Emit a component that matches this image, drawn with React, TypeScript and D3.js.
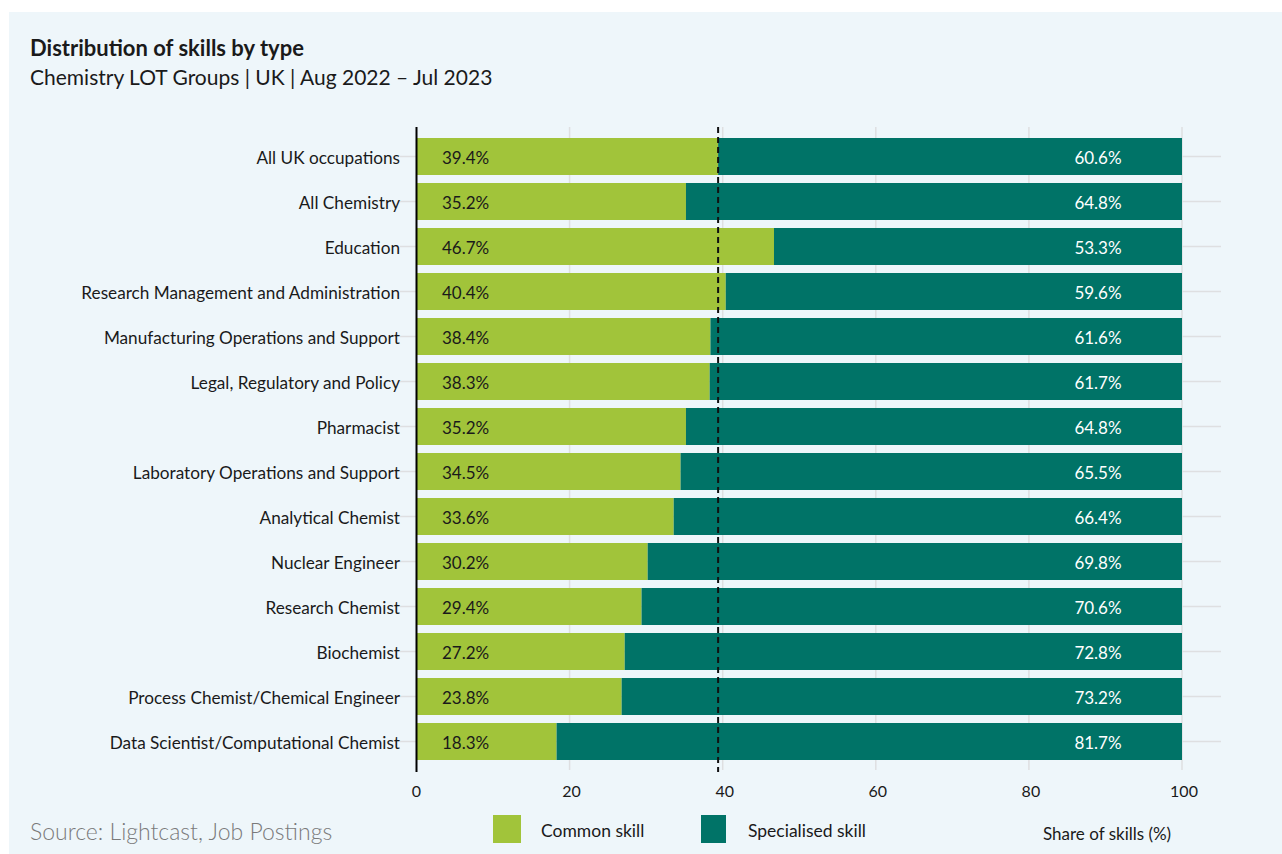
import React from "react";
import * as d3 from "d3";

const categories = [
  "All UK occupations",
  "All Chemistry",
  "Education",
  "Research Management and Administration",
  "Manufacturing Operations and Support",
  "Legal, Regulatory and Policy",
  "Pharmacist",
  "Laboratory Operations and Support",
  "Analytical Chemist",
  "Nuclear Engineer",
  "Research Chemist",
  "Biochemist",
  "Process Chemist/Chemical Engineer",
  "Data Scientist/Computational Chemist",
];
const commonShare = [39.4, 35.2, 46.7, 40.4, 38.4, 38.3, 35.2, 34.5, 33.6, 30.2, 29.4, 27.2, 23.8, 18.3];
const specialisedShare = [60.6, 64.8, 53.3, 59.6, 61.6, 61.7, 64.8, 65.5, 66.4, 69.8, 70.6, 72.8, 73.2, 81.7];
const xTicks = [0, 20, 40, 60, 80, 100];
const referenceValue = commonShare[0];

const GREEN = "#A1C43A";
const TEAL = "#007367";
const FONT = "Lato, 'Noto Sans', sans-serif";

export default function App() {
  const W = 1282, H = 854;
  const x = d3.scaleLinear().domain([0, 100]).range([416.5, 1182]);
  const y = d3.scaleBand<string>().domain(categories).range([134, 764]).paddingInner(8 / 45).paddingOuter(4 / 45);
  const bw = y.bandwidth();
  const gridTop = 127, gridBottom = 770;

  return (
    <svg width={W} height={H} style={{ position: "absolute", left: 0, top: 0, fontFamily: FONT }}>
      <rect x={9} y={12} width={W - 9} height={H - 12} fill="#EEF6FA" />
      <text x={30} y={56} fontSize={22} fontWeight={700} fill="#1a1a1a">Distribution of skills by type</text>
      <text x={30} y={85} fontSize={21} fill="#1a1a1a">Chemistry LOT Groups | UK | Aug 2022 – Jul 2023</text>

      {/* gridlines */}
      {xTicks.slice(1).map((t) => (
        <line key={"g" + t} x1={x(t)} x2={x(t)} y1={gridTop} y2={gridBottom} stroke="#DEDFE1" strokeWidth={1.5} />
      ))}
      {categories.map((c) => (
        <line key={"h" + c} x1={400} x2={1221} y1={(y(c) as number) + bw / 2} y2={(y(c) as number) + bw / 2} stroke="#DEDFE1" strokeWidth={1.5} />
      ))}

      {/* bars */}
      {categories.map((c, i) => {
        const y0 = y(c) as number;
        const split = 100 - specialisedShare[i];
        return (
          <g key={c}>
            <rect x={x(0)} y={y0} width={x(split) - x(0)} height={bw} fill={GREEN} />
            <rect x={x(split)} y={y0} width={x(100) - x(split)} height={bw} fill={TEAL} />
            <text x={x(0) + 25.5} y={y0 + bw / 2} dy="0.45em" fontSize={17} fill="#1a1a1a">{commonShare[i].toFixed(1)}%</text>
            <text x={x(100) - 84} y={y0 + bw / 2} dy="0.45em" fontSize={17} fill="#ffffff" textAnchor="middle">{specialisedShare[i].toFixed(1)}%</text>
            <text x={400} y={y0 + bw / 2} dy="0.45em" fontSize={17.2} fill="#1a1a1a" textAnchor="end">{c}</text>
          </g>
        );
      })}

      {/* y axis line */}
      <line x1={x(0)} x2={x(0)} y1={gridTop} y2={772} stroke="#000" strokeWidth={2} />
      {/* reference dashed line */}
      <line x1={x(referenceValue)} x2={x(referenceValue)} y1={gridTop} y2={772} stroke="#111" strokeWidth={2} strokeDasharray="6,4" />

      {/* x tick labels */}
      {xTicks.map((t) => (
        <text key={"t" + t} x={x(t) + (t === 0 ? 0 : 2)} y={797} fontSize={16} fill="#1a1a1a" textAnchor="middle">{t}</text>
      ))}

      {/* footer */}
      <text x={30} y={840} fontSize={23} fontWeight={300} fill="#7a7a7a">Source: Lightcast, Job Postings</text>
      <rect x={493} y={815} width={28} height={28} fill={GREEN} />
      <text x={541} y={837} fontSize={17.5} fill="#1a1a1a">Common skill</text>
      <rect x={701} y={815} width={25} height={28} fill={TEAL} />
      <text x={748} y={837} fontSize={17.5} fill="#1a1a1a">Specialised skill</text>
      <text x={1043} y={840} fontSize={17} fill="#1a1a1a">Share of skills (%)</text>
    </svg>
  );
}
